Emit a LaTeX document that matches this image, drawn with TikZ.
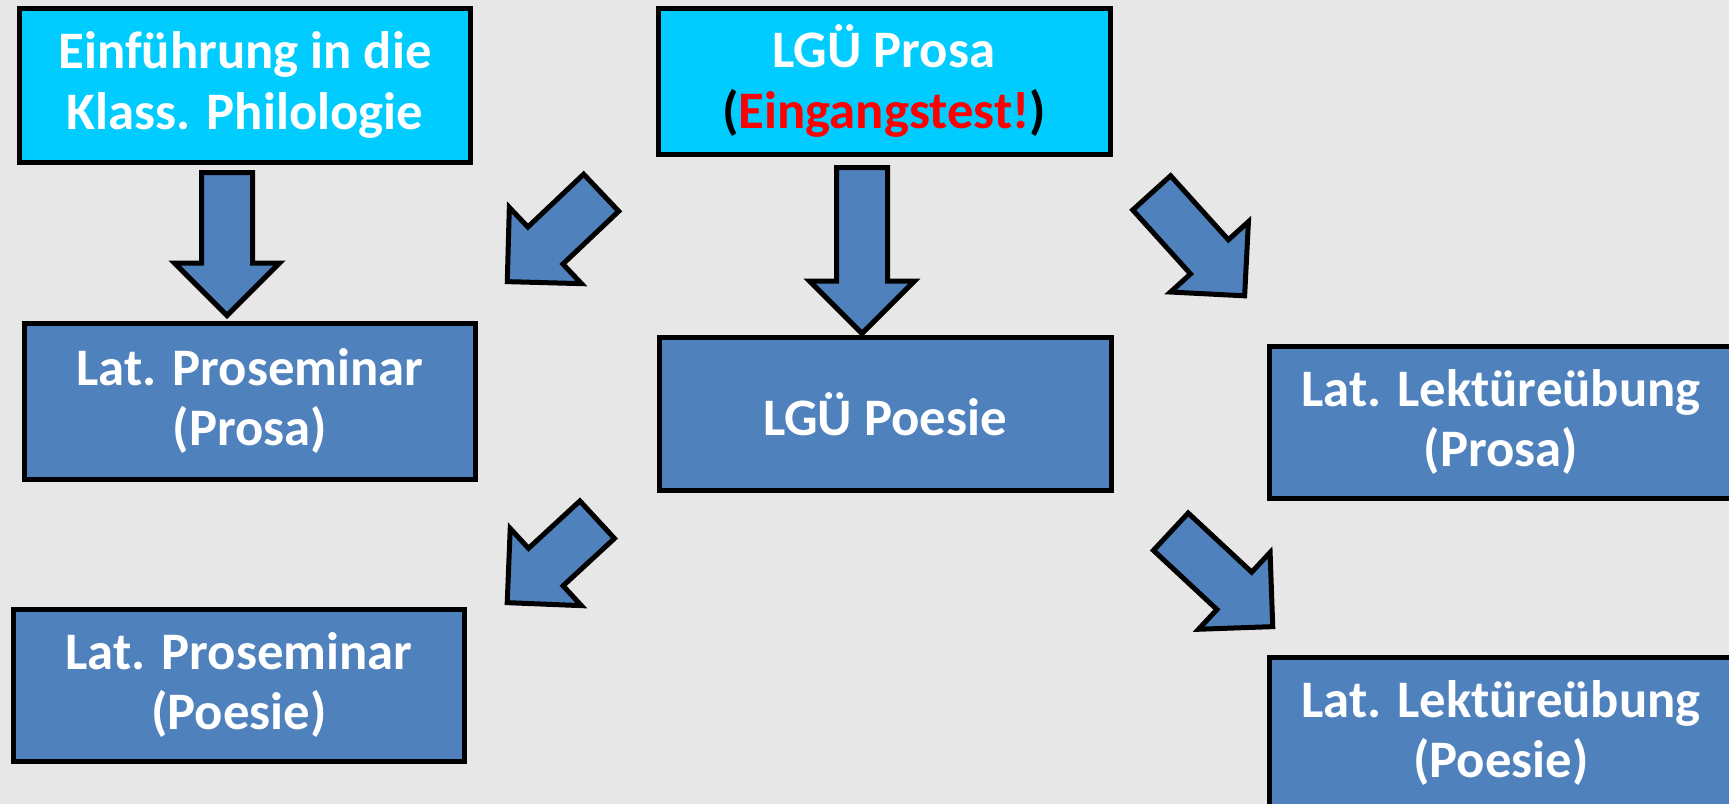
\documentclass[tikz,border=0pt]{standalone}
\usepackage{fontspec}
\setmainfont{Carlito}
\usetikzlibrary{shapes.arrows,calc}
\definecolor{boxblue}{HTML}{4F81BD}
\definecolor{boxcyan}{HTML}{00CCFF}
\definecolor{slidegray}{HTML}{E7E7E7}
\newcommand{\fatarrow}[3]{%
 \path let \p1=($(#3)-(#2)$), \n1={veclen(\x1,\y1)} in
  (#2) -- node[bigarrow, sloped, allow upside down, pos=0, anchor=tail, minimum height=\n1] ({#1}) {} (#3);%
}

\begin{document}
\begin{tikzpicture}[x=0.1mm, y=-0.1mm,
  every node/.style={font=\bfseries\fontsize{15}{17.2}\selectfont, text=white, align=center},
  kasten/.style={draw=black, line width=0.5mm, fill=boxblue, minimum width=45.2mm, minimum height=15.3mm, inner sep=0pt},
  startkasten/.style={kasten, fill=boxcyan},
  bigarrow/.style={single arrow, draw=black, line width=0.5mm, fill=boxblue, inner xsep=0pt, inner ysep=2.3mm,
    single arrow head extend=2.7mm, single arrow tip angle=90}]
  \useasboundingbox (0,0) rectangle (1729,804);
  \clip (0,0) rectangle (1729,804);
  \fill[slidegray] (0,0) rectangle (1729,804);
  % boxes
  \node[startkasten, minimum height=15.4mm] (einf) at (245,85) {Einführung in die\\Klass. Philologie};
  \node[startkasten, minimum height=14.6mm] (lgupr) at (884,81) {LGÜ Prosa\\\textcolor{black}{(}\textcolor{red}{Eingangstest!}\textcolor{black}{)}};
  \node[kasten, minimum height=15.6mm] (psprosa) at (250,401) {Lat. Proseminar\\(Prosa)};
  \node[kasten] (lgupo) at (885,414) {LGÜ Poesie};
  \node[kasten, minimum width=46.4mm, minimum height=15.2mm] (leprosa) at (1501,422) {Lat. Lektüreübung\\(Prosa)};
  \node[kasten, minimum height=15.2mm] (pspoesie) at (239,685) {Lat. Proseminar\\(Poesie)};
  \node[kasten, minimum width=46.4mm, minimum height=15.2mm] (lepoesie) at (1501,733) {Lat. Lektüreübung\\(Poesie)};
  % arrows
  \coordinate (a1s) at (227,170);  \coordinate (a1e) at (227,313);
  \coordinate (a2s) at (862,165);  \coordinate (a2e) at (862,331);
  \coordinate (a3s) at (603,191);  \coordinate (a3e) at (509,280);
  \coordinate (a4s) at (1150,191); \coordinate (a4e) at (1243,294);
  \coordinate (a5s) at (599,518);  \coordinate (a5e) at (509,601);
  \coordinate (a6s) at (1169,530); \coordinate (a6e) at (1271,625);
  \fatarrow{pfeil1}{a1s}{a1e}
  \fatarrow{pfeil2}{a2s}{a2e}
  \fatarrow{pfeil3}{a3s}{a3e}
  \fatarrow{pfeil4}{a4s}{a4e}
  \fatarrow{pfeil5}{a5s}{a5e}
  \fatarrow{pfeil6}{a6s}{a6e}
\end{tikzpicture}
\end{document}
